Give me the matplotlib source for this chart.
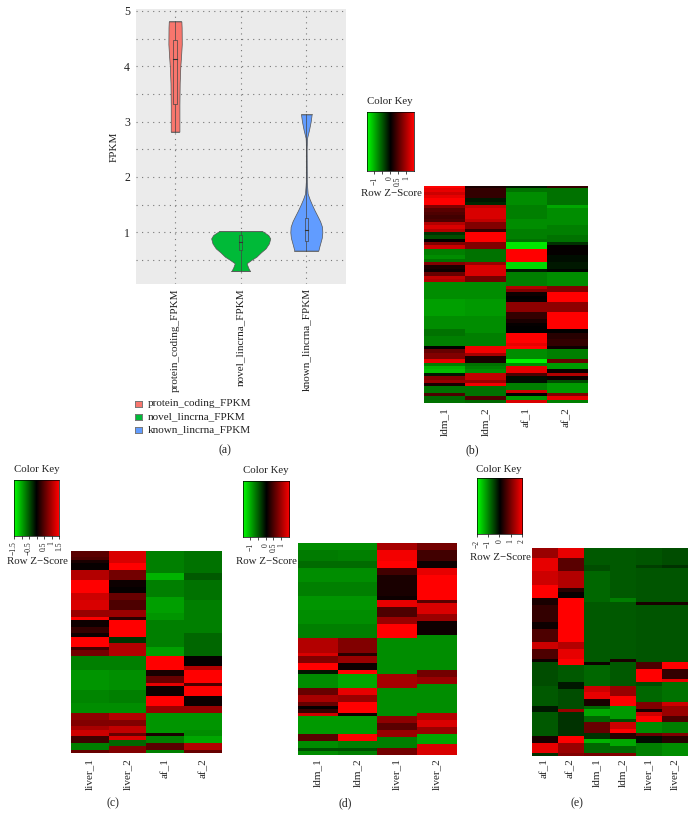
import numpy as np
import matplotlib
matplotlib.use("Agg")
import matplotlib.pyplot as plt
from matplotlib.colors import LinearSegmentedColormap

plt.rcParams['font.family'] = ['Liberation Serif', 'DejaVu Serif']

W, H = 694, 826

# (a) violin outlines, y value and half width
violin_names = ["protein_coding_FPKM", "novel_lincrna_FPKM", "known_lincrna_FPKM"]
violin_colors = ["#F8766D", "#00BA38", "#619CFF"]
red_y = [2.82, 3.3, 3.7, 4.0, 4.2, 4.4, 4.7, 4.81]
red_w = [0.066, 0.066, 0.07, 0.08, 0.092, 0.102, 0.1, 0.096]
green_y = [0.3, 0.36, 0.44, 0.5, 0.56, 0.64, 0.71, 0.8, 0.89, 0.95, 0.99, 1.02]
green_w = [0.142, 0.115, 0.09, 0.16, 0.24, 0.31, 0.38, 0.43, 0.45, 0.42, 0.37, 0.33]
blue_y = [0.67, 0.75, 0.9, 1.0, 1.1, 1.2, 1.3, 1.4, 1.5, 1.6, 1.7, 1.9, 2.5, 2.7, 2.85, 3.0, 3.13]
blue_w = [0.183, 0.2, 0.235, 0.244, 0.239, 0.21, 0.168, 0.125, 0.086, 0.05, 0.02, 0.008, 0.005, 0.01, 0.041, 0.066, 0.081]
# whisker low, q1, median, q3, whisker high
box_stats = [[2.82, 3.32, 4.13, 4.48, 4.81],
             [0.30, 0.68, 0.83, 0.95, 1.02],
             [0.67, 0.85, 1.05, 1.25, 3.13]]

# heatmap columns, runs of (rows, value)
b_labels = ["ldm_1", "ldm_2", "af_1", "af_2"]
b_ldm1 = [(1, 1), (1, .9), (1, .8), (1, .9), (2, 1), (1, .5), (1, .35), (1, .3), (1, .25), (1, .3), (1, .7), (1, .85),
          (1, .7), (1, -.2), (1, -.3), (1, .02), (1, .5), (1, .8), (2, -.5), (1, -.55), (1, -.45), (1, .5),
          (1, .1), (1, .05), (1, .4), (1, .75), (1, .7), (5, -.55), (5, -.62), (4, -.55), (2, -.45), (3, -.5), (1, 0),
          (1, .4), (2, .5), (1, .9), (1, -.5), (1, -.7), (1, -.75), (1, -.1), (1, .5), (1, .6), (1, .1),
          (2, -.45), (1, .3), (1, -.4), (1, -.45)]
b_ldm2 = [(1, .1), (3, .2), (1, -.1), (1, -.15), (1, .75), (3, .85), (1, .75), (2, .5), (1, .2), (3, 1), (2, .5), (4, -.45),
          (1, .6), (3, .85), (2, .45), (5, -.55), (5, -.6), (5, -.55), (4, -.5), (2, .95), (1, .65), (2, .1), (1, -.45),
          (1, -.5), (1, -.55), (2, .75), (1, .6), (1, .95), (3, -.45), (1, .3), (1, -.4)]
b_af1 = [(1, -.1), (1, -.45), (4, -.55), (4, -.5), (3, -.55), (3, -.5), (1, -.45), (2, -.9), (4, 1), (2, -.85), (1, -.1), (4, -.5),
         (1, .7), (1, .5), (1, .05), (1, 0), (1, .02), (3, .55), (2, .2), (1, .1), (1, .02), (2, 0), (3, 1), (1, .9), (1, 1),
         (3, -.55), (1, -.95), (1, -.55), (2, .9), (1, .3), (2, -.05), (2, -.5), (1, .8), (1, 0), (1, -.6), (1, .85), (1, .6)]
b_af2 = [(1, .2), (3, -.45), (2, -.45), (1, -.65), (5, -.55), (3, -.5), (2, -.45), (1, -.2), (1, .02), (2, .02), (2, -.05), (2, -.1),
         (1, -.02), (4, -.55), (2, .5), (3, 1), (3, .55), (5, 1), (1, 0), (2, .15), (2, .2), (1, .05), (3, -.5), (1, .4), (2, -.6),
         (1, .05), (1, .7), (1, .05), (1, -.3), (3, -.6), (1, .5), (1, .9), (1, -.5), (1, 1)]

c_labels = ["liver_1", "liver_2", "af_1", "af_2"]
c_liver1 = [(2, .35), (1, .3), (1, .1), (2, .03), (3, .7), (4, 1), (2, .8), (3, .85), (2, .6), (1, 1), (2, .05), (2, .2),
            (1, .05), (3, 1), (1, .25), (2, .45), (4, -.5), (6, -.58), (4, -.52), (3, -.55), (2, .55), (2, .5), (1, .65), (2, .8),
            (2, .25), (2, -.5), (1, .4)]
c_liver2 = [(4, .85), (2, 1), (3, .45), (2, .05), (2, .02), (2, .4), (3, .3), (2, .6), (1, .15), (5, 1), (2, -.2), (4, .7),
            (4, -.5), (6, -.56), (4, -.5), (3, -.55), (2, .7), (2, .5), (2, .75), (1, .4), (1, .85), (2, -.4), (1, .5)]
c_af1 = [(7, -.5), (2, -.7), (5, -.5), (5, -.62), (2, -.58), (8, -.5), (3, -.62), (4, 1), (2, .1), (2, .4), (1, .9), (3, .05),
         (3, 1), (2, .6), (6, -.58), (1, .1), (2, -.5), (2, .35), (1, -.5)]
c_af2 = [(7, -.45), (2, -.35), (6, -.45), (10, -.5), (7, -.4), (3, .02), (1, .7), (4, 1), (1, .3), (3, 1), (3, .05), (2, .6),
         (5, -.58), (2, -.55), (2, -.65), (2, .7), (1, .4)]

d_labels = ["ldm_1", "ldm_2", "liver_1", "liver_2"]
d_ldm1 = [(2, -.55), (3, -.48), (2, -.42), (4, -.55), (4, -.5), (4, -.58), (4, -.55), (4, -.5), (4, .7), (1, .85), (2, .5), (2, 1),
          (1, -.1), (4, -.55), (2, .4), (2, .65), (1, .4), (1, .02), (1, .2), (1, .8), (5, -.6), (2, .35), (2, -.55), (1, -.3), (1, -.55)]
d_ldm2 = [(2, -.55), (3, -.5), (2, -.42), (4, -.55), (4, -.5), (4, -.58), (4, -.55), (4, -.5), (4, .5), (1, .15), (2, .6), (2, .05),
          (1, 1), (4, -.65), (2, .9), (2, .6), (3, 1), (1, .05), (5, -.6), (2, 1), (2, -.5), (1, -.3), (1, -.5)]
d_liver1 = [(2, .65), (3, .95), (2, 1), (2, .25), (6, .1), (1, .05), (2, .9), (3, .3), (2, .6), (4, 1), (10, -.55), (4, .65),
            (8, -.55), (2, .55), (2, .35), (2, .6), (3, -.5), (2, .45), (1, .7)]
d_liver2 = [(2, .45), (3, .25), (2, .05), (2, .9), (7, 1), (1, .35), (3, .85), (2, .6), (4, .05), (10, -.55), (2, .45), (2, .6),
            (8, -.55), (2, .7), (2, .85), (2, .6), (3, -.65), (3, .85)]

e_labels = ["af_1", "af_2", "ldm_1", "ldm_2", "liver_1", "liver_2"]
e_af1 = [(3, .6), (4, .9), (4, .8), (4, 1), (2, .1), (5, .2), (2, .05), (4, .3), (2, .8), (3, .3), (1, .05), (7, -.3), (6, -.35),
         (2, -.1), (7, -.35), (2, .1), (3, .9), (1, -.2)]
e_af2 = [(3, .9), (4, .35), (5, .7), (1, .15), (2, .03), (13, 1), (2, .7), (3, .9), (2, 1), (5, -.35), (2, -.1), (6, -.3),
         (1, .6), (7, -.2), (2, 1), (3, .6), (1, .5)]
e_ldm1 = [(5, -.35), (2, -.3), (5, -.4), (4, -.4), (18, -.35), (1, .05), (6, -.4), (2, .8), (2, .9), (2, .1), (1, -.4), (2, -.65),
          (2, -.4), (3, .4), (2, -.2), (1, -.7), (3, -.4), (1, .45)]
e_ldm2 = [(15, -.35), (1, -.5), (17, -.35), (1, .1), (7, -.35), (3, .6), (3, 1), (4, -.6), (1, -.3), (2, .8), (1, 1), (2, .15),
          (2, -.65), (2, -.4), (1, .5)]
e_liver1 = [(5, -.33), (1, -.25), (10, -.33), (1, .1), (17, -.33), (2, .3), (4, 1), (1, -.3), (5, -.4), (2, .5), (1, .1), (1, .8),
            (2, 1), (3, -.55), (1, .4), (2, -.05), (4, -.5)]
e_liver2 = [(5, -.3), (1, -.2), (10, -.33), (1, .1), (17, -.33), (2, 1), (3, .2), (1, .9), (6, -.45), (1, .8), (3, .6), (2, .3),
            (3, -.5), (1, .5), (2, .15), (4, -.55)]

# key ticks
b_ticks, b_ticklabels = [-1, -.5, 0, .5, 1], ["\u22121", "", "0", "0.5", "1"]
c_ticks, c_ticklabels = [-1.5, -1, -.5, 0, .5, 1, 1.5], ["\u22121.5", "", "\u22120.5", "", "0.5", "1", "1.5"]
d_ticks, d_ticklabels = [-1, -.5, 0, .5, 1], ["\u22121", "", "0", "0.5", "1"]
e_ticks, e_ticklabels = [-2, -1, 0, 1, 2], ["\u22122", "\u22121", "0", "1", "2"]

rg = LinearSegmentedColormap.from_list("rg", ["#00FF00", "#000000", "#FF0000"])


def px_axes(x0, y0, x1, y1):
    # pixel box, y measured from the top
    return fig.add_axes([x0 / W, 1 - y1 / H, (x1 - x0) / W, (y1 - y0) / H])


def px_text(x, y, s, **kw):
    fig.text(x / W, 1 - y / H, s, **kw)


def expand(col, n):
    rows = np.repeat([v for _, v in col], [k for k, _ in col])
    if len(rows) < n:
        rows = np.concatenate([rows, np.full(n - len(rows), rows[-1])])
    return rows[:n]


def heatmap(box, cols, labels, n, label_y):
    ax = px_axes(*box)
    data = np.array([expand(c, n) for c in cols]).T
    ax.imshow(data, cmap=rg, vmin=-1, vmax=1, aspect='auto', interpolation='nearest')
    ax.set_xticks([])
    ax.set_yticks([])
    for s in ax.spines.values():
        s.set_visible(False)
    step = (box[2] - box[0]) / len(labels)
    for i, name in enumerate(labels):
        px_text(box[0] + step * (i + .5), label_y, name, rotation=90, ha='center', va='top', fontsize=8, color='#222222')


def color_key(box, lim, ticks, ticklabels, title_xy, score_xy):
    ax = px_axes(*box)
    ramp = np.linspace(-1, 1, 256).reshape(1, -1)
    ax.imshow(ramp, cmap=rg, vmin=-1, vmax=1, aspect='auto', extent=[lim[0], lim[1], 0, 1])
    ax.set_yticks([])
    ax.set_xticks(ticks)
    ax.set_xticklabels(ticklabels, rotation=90, fontsize=5.5, color='#222222')
    ax.tick_params(length=2.5, width=.5, pad=1.5)
    for s in ax.spines.values():
        s.set_linewidth(.5)
    px_text(*title_xy, "Color Key", ha='center', va='center', fontsize=7.8, color='#222222')
    px_text(*score_xy, "Row Z\u2212Score", ha='center', va='center', fontsize=7.8, color='#222222')


fig = plt.figure(figsize=(W / 100, H / 100), dpi=100)

# (a) violins
ax = px_axes(135.7, 9.3, 345.7, 284)
ax.set_facecolor("#EBEBEB")
ax.set_xlim(.4, 3.6)
ax.set_ylim(.066, 5.03)
ax.set_yticks([1, 2, 3, 4, 5])
ax.set_yticks([.5, 1.5, 2.5, 3.5, 4.5], minor=True)
ax.set_xticks([1, 2, 3])
ax.set_xticklabels(violin_names, rotation=90, fontsize=8, color='#222222')
ax.tick_params(axis='y', which='major', labelsize=8.5, length=0, labelcolor='#222222', pad=4)
ax.tick_params(axis='y', which='minor', length=0)
ax.tick_params(axis='x', length=0, pad=3)
ax.grid(True, which='both', color='#777777', linestyle=(0, (1, 4)), linewidth=.8)
ax.set_axisbelow(True)
for s in ax.spines.values():
    s.set_visible(False)
ax.set_ylabel("FPKM", fontsize=8, color='#222222', labelpad=4)
for i, (vy, vw) in enumerate([(red_y, red_w), (green_y, green_w), (blue_y, blue_w)]):
    pos = i + 1
    vy, vw = np.array(vy), np.array(vw)
    ax.fill_betweenx(vy, pos - vw, pos + vw, facecolor=violin_colors[i], edgecolor='#555555', linewidth=.5, zorder=3)
    ax.plot([pos - vw[0], pos + vw[0]], [vy[0], vy[0]], color='#555555', lw=.5, zorder=3)
    ax.plot([pos - vw[-1], pos + vw[-1]], [vy[-1], vy[-1]], color='#555555', lw=.5, zorder=3)
    lo, q1, med, q3, hi = box_stats[i]
    ax.plot([pos, pos], [lo, hi], color='#444444', lw=.5, zorder=4)
    ax.fill_between([pos - .025, pos + .025], q1, q3, facecolor=violin_colors[i], edgecolor='#444444', linewidth=.5, zorder=4)
    ax.plot([pos - .025, pos + .025], [med, med], color='#333333', lw=.8, zorder=5)

# (a) legend
leg_y = [404, 417, 430]
for name, col, y in zip(violin_names, violin_colors, leg_y):
    lax = px_axes(135, y - 3, 141.5, y + 3)
    lax.set_xticks([])
    lax.set_yticks([])
    lax.set_facecolor(col)
    for s in lax.spines.values():
        s.set_color('#777777')
        s.set_linewidth(.7)
    px_text(148, y, name, ha='left', va='center', fontsize=8, color='#222222')

heatmap((424, 186, 587, 403), [b_ldm1, b_ldm2, b_af1, b_af2], b_labels, 65, 407)
color_key((367, 112, 414, 171), (-1.45, 1.5), b_ticks, b_ticklabels, (390, 102), (391, 193))

heatmap((70.7, 550.7, 221.7, 753.3), [c_liver1, c_liver2, c_af1, c_af2], c_labels, 61, 758)
color_key((14, 480, 59, 536), (-1.5, 1.5), c_ticks, c_ticklabels, (37, 469), (37, 562))

heatmap((298, 543, 456.3, 754.7), [d_ldm1, d_ldm2, d_liver1, d_liver2], d_labels, 60, 758)
color_key((242.7, 480.7, 289.3, 537.3), (-1.5, 1.55), d_ticks, d_ticklabels, (266, 471), (266, 562))

heatmap((531.7, 548, 687, 756), [e_af1, e_af2, e_ldm1, e_ldm2, e_liver1, e_liver2], e_labels, 62, 758)
color_key((476.7, 478, 522, 534), (-2, 2), e_ticks, e_ticklabels, (499, 469), (500, 557))

for s, x, y in [("(a)", 225, 450), ("(b)", 472, 450), ("(c)", 113, 803), ("(d)", 345, 803), ("(e)", 577, 803)]:
    px_text(x, y, s, ha='center', va='center', fontsize=8.5, color='#222222')

fig.savefig("out.png", dpi=100)
